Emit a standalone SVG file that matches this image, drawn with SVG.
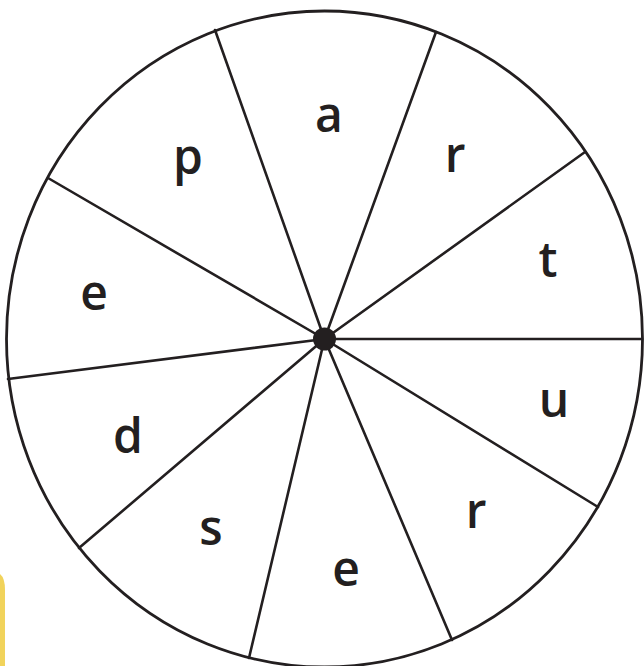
<svg xmlns="http://www.w3.org/2000/svg" width="644" height="666" viewBox="0 0 644 666">
<style>
.sp{stroke:#231f20;stroke-width:2.6;fill:none;stroke-linecap:round}
.lt{font-family:"Open Sans","Liberation Sans",sans-serif;font-size:48px;font-weight:600;fill:#231f20;text-anchor:middle}
</style>
<rect width="644" height="666" fill="#ffffff"/>
<path d="M0,574 Q5,578 5,590 L5,666 L0,666 Z" fill="#f1d35b"/>
<g id="wheel">
<ellipse cx="324.5" cy="339" rx="318" ry="328" fill="#ffffff" stroke="#231f20" stroke-width="2.8"/>
</g>
<g id="spokes">
<line class="sp" x1="324.5" y1="339" x2="215" y2="30"/>
<line class="sp" x1="324.5" y1="339" x2="436" y2="32"/>
<line class="sp" x1="324.5" y1="339" x2="585" y2="152"/>
<line class="sp" x1="324.5" y1="339" x2="642" y2="339"/>
<line class="sp" x1="324.5" y1="339" x2="598" y2="507"/>
<line class="sp" x1="324.5" y1="339" x2="452" y2="640"/>
<line class="sp" x1="324.5" y1="339" x2="249" y2="658"/>
<line class="sp" x1="324.5" y1="339" x2="79" y2="548"/>
<line class="sp" x1="324.5" y1="339" x2="8" y2="379"/>
<line class="sp" x1="324.5" y1="339" x2="48" y2="178"/>
</g>
<g id="hub"><circle cx="324.5" cy="339" r="11.5" fill="#231f20"/></g>
<g id="letters">
<g id="l-a"><text class="lt" x="329" y="132">a</text></g>
<g id="l-r1"><text class="lt" x="455" y="172">r</text></g>
<g id="l-t"><text class="lt" x="548" y="277">t</text></g>
<g id="l-u"><text class="lt" x="554" y="417">u</text></g>
<g id="l-r2"><text class="lt" x="476" y="528">r</text></g>
<g id="l-e1"><text class="lt" x="346" y="586">e</text></g>
<g id="l-s"><text class="lt" x="211" y="545">s</text></g>
<g id="l-d"><text class="lt" x="128" y="453">d</text></g>
<g id="l-e2"><text class="lt" x="94" y="310">e</text></g>
<g id="l-p"><text class="lt" x="188" y="174">p</text></g>
</g>
</svg>
